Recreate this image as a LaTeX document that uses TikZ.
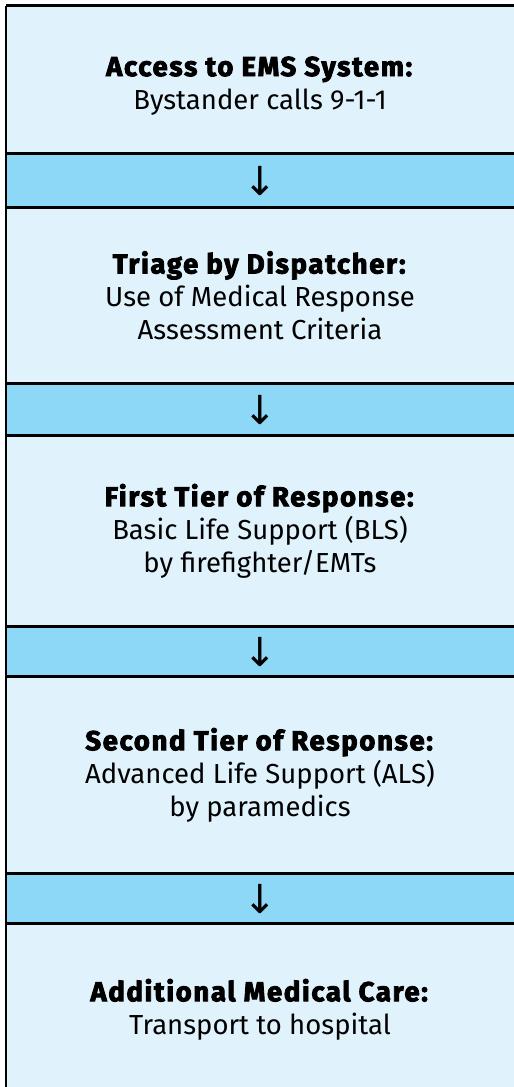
\documentclass[tikz,border=0pt]{standalone}
\usepackage{fontspec}
\setmainfont{Fira Sans}[BoldFeatures={FakeBold=3, LetterSpace=6}]
\newfontfamily\arrowfont{DejaVu Sans}
\usetikzlibrary{positioning}
\definecolor{stagefill}{HTML}{E0F2FC}
\definecolor{bandfill}{HTML}{8DD8F7}
\tikzstyle{stage} = [rectangle, fill=stagefill, minimum width=508pt, align=center, inner sep=0pt, outer sep=0pt, font=\fontsize{27.5}{33}\selectfont]
\tikzstyle{band} = [rectangle, fill=bandfill, minimum width=508pt, minimum height=52pt, inner sep=0pt, outer sep=0pt, font=\arrowfont\fontsize{40}{44}\selectfont]
\tikzstyle{rule} = [line width=2.3pt, black]
\tikzstyle{frame} = [line width=2.8pt, black]

\begin{document}
\begin{tikzpicture}[x=1pt, y=1pt]
        \path[use as bounding box, clip] (0,0) rectangle (514,-1087);
        \node (access) [stage, minimum height=148pt, anchor=north west] at (6,-5.5) {\rule{0pt}{32pt}\textbf{Access to EMS System:}\\Bystander calls 9-1-1};
        \node (band1) [band, minimum height=54pt, below=0pt of access] {↓};
        \node (triage) [stage, minimum height=176pt, below=0pt of band1] {\textbf{Triage by Dispatcher:}\\Use of Medical Response\\Assessment Criteria};
        \node (band2) [band, below=0pt of triage] {↓};
        \node (first) [stage, minimum height=191pt, below=0pt of band2] {\textbf{First Tier of Response:}\\Basic Life Support (BLS)\\by firefighter/EMTs};
        \node (band3) [band, minimum height=50pt, below=0pt of first] {↓};
        \node (second) [stage, minimum height=197pt, below=0pt of band3] {\textbf{Second Tier of Response:}\\Advanced Life Support (ALS)\\by paramedics};
        \node (band4) [band, minimum height=50pt, below=0pt of second] {↓};
        \node (care) [stage, minimum height=172pt, below=0pt of band4] {\textbf{Additional Medical Care:}\\Transport to hospital};
        \draw [frame] (access.north west) -- (access.north east);
        \draw [frame] (access.north west) -- (care.south west);
        \foreach \n in {access,band1,triage,band2,first,band3,second,band4}
            \draw [rule] (\n.south west) -- (\n.south east);
    \end{tikzpicture}
\end{document}
